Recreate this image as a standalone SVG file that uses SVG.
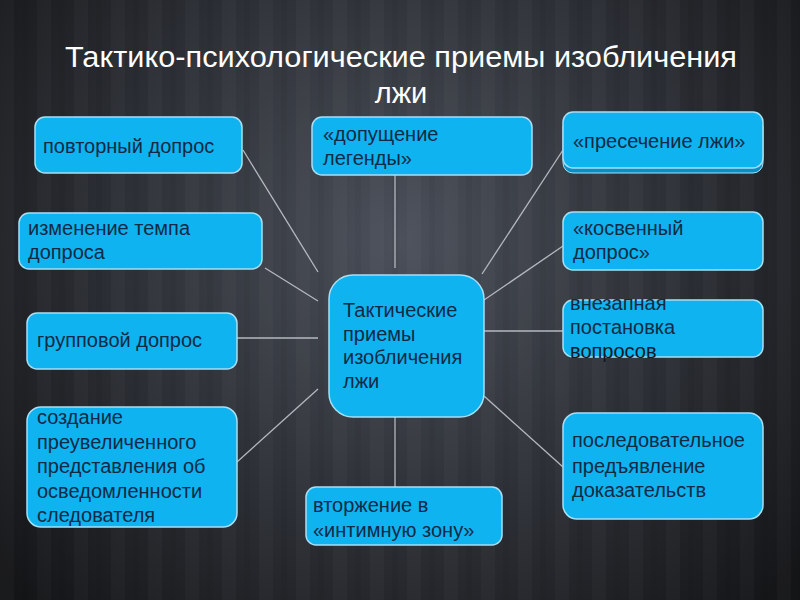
<svg xmlns="http://www.w3.org/2000/svg" width="800" height="600" viewBox="0 0 800 600">
<defs>
<radialGradient id="bg" cx="400" cy="240" r="520" gradientUnits="userSpaceOnUse">
<stop offset="0" stop-color="#4b505a"/>
<stop offset="0.55" stop-color="#2c2f35"/>
<stop offset="1" stop-color="#141517"/>
</radialGradient>
<pattern id="stripes" width="37" height="600" patternUnits="userSpaceOnUse">
<rect x="0" y="0" width="14" height="600" fill="#ffffff" opacity="0.025"/>
<rect x="22" y="0" width="6" height="600" fill="#000000" opacity="0.04"/>
</pattern>
</defs>
<style>
.box{fill:#0fb3ef;stroke:#a9def5;stroke-width:1.5}
.shadow{fill:#0a8fc4;stroke:#a9def5;stroke-width:1}
.t{font-family:"Liberation Sans",Arial,sans-serif;font-size:20px;fill:#0f2a46}
.title{font-family:"Liberation Sans",Arial,sans-serif;font-size:29px;fill:#ffffff;text-anchor:middle}
.c line{stroke:#b4b8bf;stroke-width:1.3}
</style>
<rect width="800" height="600" fill="url(#bg)"/>
<rect width="800" height="600" fill="url(#stripes)"/>
<text class="title" x="401" y="67" textLength="672" lengthAdjust="spacingAndGlyphs">Тактико-психологические приемы изобличения</text>
<text class="title" x="401" y="103">лжи</text>
<g class="c" id="connectors">
<line x1="243" y1="150" x2="318" y2="272"/>
<line x1="265" y1="268" x2="318" y2="301"/>
<line x1="237" y1="338" x2="318" y2="338"/>
<line x1="237" y1="462" x2="318" y2="389"/>
<line x1="395" y1="175" x2="395" y2="268"/>
<line x1="395" y1="417" x2="395" y2="487"/>
<line x1="563" y1="150" x2="482" y2="274"/>
<line x1="563" y1="246" x2="484" y2="300"/>
<line x1="484" y1="331" x2="563" y2="331"/>
<line x1="484" y1="396" x2="563" y2="467"/>
</g>
<g id="n-povtorny"><rect class="box" x="35" y="117" width="207" height="56" rx="10"/><text class="t" x="43" y="153">повторный допрос</text></g>
<g id="n-temp"><rect class="box" x="19" y="213" width="243" height="56" rx="10"/><text class="t" x="28" y="235">изменение темпа</text><text class="t" x="28" y="259">допроса</text></g>
<g id="n-gruppovoy"><rect class="box" x="27" y="313" width="210" height="56" rx="10"/><text class="t" x="37" y="347">групповой допрос</text></g>
<g id="n-sozdanie"><rect class="box" x="27" y="407" width="210" height="120" rx="14"/><text class="t" x="37" y="424">создание</text><text class="t" x="37" y="449">преувеличенного</text><text class="t" x="37" y="473">представления об</text><text class="t" x="37" y="498">осведомленности</text><text class="t" x="37" y="522">следователя</text></g>
<g id="n-legenda"><rect class="box" x="312" y="117" width="220" height="58" rx="10"/><text class="t" x="323" y="141">«допущение</text><text class="t" x="323" y="165">легенды»</text></g>
<g id="n-center"><rect class="box" x="329" y="275" width="155" height="142" rx="24"/><text class="t" x="343" y="317">Тактические</text><text class="t" x="343" y="341">приемы</text><text class="t" x="343" y="364">изобличения</text><text class="t" x="343" y="388">лжи</text></g>
<g id="n-vtorzhenie"><rect class="box" x="306" y="487" width="196" height="58" rx="10"/><text class="t" x="313" y="512">вторжение в</text><text class="t" x="313" y="537">«интимную зону»</text></g>
<g id="n-presechenie"><rect class="shadow" x="563" y="117" width="200" height="56" rx="10"/><rect class="box" x="563" y="112" width="200" height="56" rx="10"/><text class="t" x="573" y="148">«пресечение лжи»</text></g>
<g id="n-kosvenny"><rect class="box" x="563" y="212" width="200" height="58" rx="10"/><text class="t" x="573" y="235">«косвенный</text><text class="t" x="573" y="259">допрос»</text></g>
<g id="n-vnezapnaya"><rect class="box" x="563" y="300" width="200" height="57" rx="10"/><text class="t" x="570" y="310">внезапная</text><text class="t" x="570" y="334">постановка</text><text class="t" x="570" y="358" style="fill:#0b1a2a">вопросов</text></g>
<g id="n-posledovatelnoe"><rect class="box" x="563" y="413" width="200" height="106" rx="14"/><text class="t" x="572" y="447">последовательное</text><text class="t" x="572" y="473">предъявление</text><text class="t" x="572" y="497">доказательств</text></g>
</svg>
